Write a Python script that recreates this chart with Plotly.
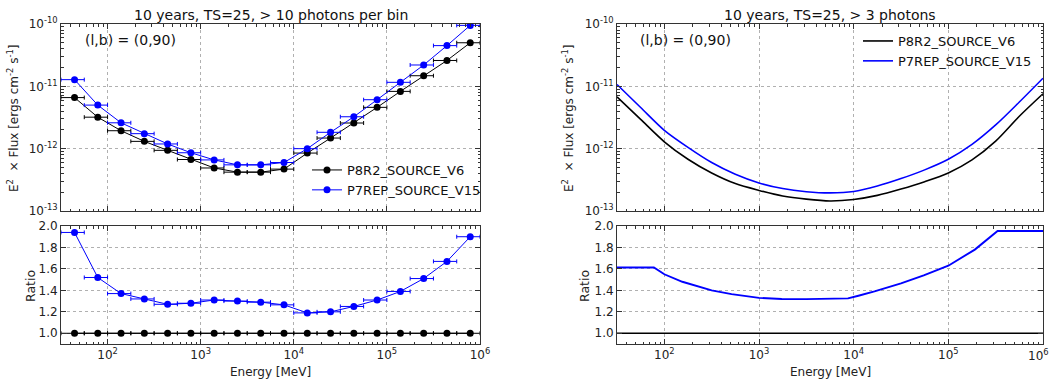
import plotly.graph_objects as go

# ---------------- data: left panel (binned, > 10 photons per bin) ----------------
energy_binned = [44.2, 78.5, 139.6, 248.3, 441.6, 785.2, 1396, 2483, 4416, 7852,
                 13964, 24831, 44157, 78524, 139637, 248313, 441570, 785236]
bin_lo = [31.62, 56.23, 100, 177.8, 316.2, 562.3, 1000, 1778, 3162, 5623,
          10000, 17783, 31623, 56234, 100000, 177828, 316228, 562341]
bin_hi = [56.23, 100, 177.8, 316.2, 562.3, 1000, 1778, 3162, 5623, 10000,
          17783, 31623, 56234, 100000, 177828, 316228, 562341, 1000000]
flux_p8_binned = [6.6e-12, 3.2e-12, 1.94e-12, 1.31e-12, 9.4e-13, 6.7e-13, 4.9e-13, 4.2e-13, 4.2e-13,
                  4.7e-13, 8.5e-13, 1.48e-12, 2.58e-12, 4.6e-12, 8.3e-12, 1.48e-11, 2.6e-11, 5.0e-11]
flux_p7_binned = [1.28e-11, 5.0e-12, 2.6e-12, 1.74e-12, 1.19e-12, 8.6e-13, 6.6e-13, 5.5e-13, 5.5e-13,
                  6.0e-13, 1.0e-12, 1.83e-12, 3.25e-12, 6.1e-12, 1.16e-11, 2.2e-11, 4.5e-11, 9.5e-11]
ratio_p8_binned = [1.0, 1.0, 1.0, 1.0, 1.0, 1.0, 1.0, 1.0, 1.0,
                   1.0, 1.0, 1.0, 1.0, 1.0, 1.0, 1.0, 1.0, 1.0]
ratio_p7_binned = [1.94, 1.52, 1.37, 1.32, 1.27, 1.28, 1.31, 1.30, 1.29,
                   1.265, 1.19, 1.20, 1.25, 1.31, 1.39, 1.51, 1.67, 1.90]

# ---------------- data: right panel (continuous, > 3 photons) ----------------
energy_curve = [31.62, 56.23, 100, 177.8, 316.2, 562.3, 1000, 1778, 3162, 5623,
                10000, 17783, 31623, 56234, 100000, 177828, 316228, 562341, 1000000]
flux_p8_curve = [6.76e-12, 2.95e-12, 1.29e-12, 6.76e-13, 4.07e-13, 2.75e-13, 2.14e-13, 1.74e-13, 1.55e-13,
                 1.45e-13, 1.53e-13, 1.78e-13, 2.25e-13, 2.95e-13, 4.07e-13, 6.6e-13, 1.32e-12,
                 3.31e-12, 7.6e-12]
flux_p7_curve = [1.07e-11, 4.57e-12, 1.97e-12, 1.05e-12, 6.0e-13, 3.89e-13, 2.82e-13, 2.29e-13, 2.04e-13,
                 1.95e-13, 2.05e-13, 2.51e-13, 3.31e-13, 4.57e-13, 6.76e-13, 1.17e-12, 2.4e-12,
                 5.6e-12, 1.35e-11]
energy_ratio = [31.62, 77.6, 100, 155, 316.2, 513, 1000, 1738, 3162, 5370,
                8710, 11220, 16600, 31623, 54950, 100000, 125900, 190500, 331100, 1000000]
ratio_p7_curve = [1.613, 1.613, 1.55, 1.48, 1.40, 1.365, 1.33, 1.32, 1.318, 1.32,
                  1.325, 1.35, 1.39, 1.465, 1.54, 1.63, 1.685, 1.78, 1.953, 1.953]
energy_ratio_ref = [31.62, 1000000]
ratio_p8_curve = [1.0, 1.0]

names = ["P8R2_SOURCE_V6", "P7REP_SOURCE_V15"]
colors = ["#000000", "#0000ff"]
titles = ["10 years, TS=25, > 10 photons per bin", "10 years, TS=25, > 3 photons"]
flux_ticks = [1e-13, 1e-12, 1e-11, 1e-10]
flux_ticktext = ["10<sup>-13</sup>", "10<sup>-12</sup>", "10<sup>-11</sup>", "10<sup>-10</sup>"]
energy_ticks = [100, 1000, 10000, 100000, 1000000]
energy_ticktext = ["10<sup>2</sup>", "10<sup>3</sup>", "10<sup>4</sup>", "10<sup>5</sup>", "10<sup>6</sup>"]
ratio_ticks = [1.0, 1.2, 1.4, 1.6, 1.8, 2.0]

FONT = "DejaVu Sans"
fig = go.Figure()

err_plus = [h - e for h, e in zip(bin_hi, energy_binned)]
err_minus = [e - l for l, e in zip(bin_lo, energy_binned)]

# left top
for fl, nm, c in [(flux_p8_binned, names[0], colors[0]), (flux_p7_binned, names[1], colors[1])]:
    fig.add_trace(go.Scatter(
        x=energy_binned, y=fl, name=nm, mode="lines+markers",
        line=dict(color=c, width=1), marker=dict(color=c, size=7),
        error_x=dict(type="data", array=err_plus, arrayminus=err_minus,
                     color=c, thickness=1, width=2),
        xaxis="x", yaxis="y", legend="legend"))
# left bottom
for r, nm, c in [(ratio_p8_binned, names[0], colors[0]), (ratio_p7_binned, names[1], colors[1])]:
    fig.add_trace(go.Scatter(
        x=energy_binned, y=r, name=nm, mode="lines+markers", showlegend=False,
        line=dict(color=c, width=1), marker=dict(color=c, size=7),
        error_x=dict(type="data", array=err_plus, arrayminus=err_minus,
                     color=c, thickness=1, width=2),
        xaxis="x2", yaxis="y2"))
# right top
for fl, nm, c in [(flux_p8_curve, names[0], colors[0]), (flux_p7_curve, names[1], colors[1])]:
    fig.add_trace(go.Scatter(
        x=energy_curve, y=fl, name=nm, mode="lines",
        line=dict(color=c, width=1.6, shape="spline", smoothing=0.8),
        xaxis="x3", yaxis="y3", legend="legend2"))
# right bottom
fig.add_trace(go.Scatter(x=energy_ratio_ref, y=ratio_p8_curve, mode="lines", showlegend=False,
                         line=dict(color=colors[0], width=1.6), xaxis="x4", yaxis="y4"))
fig.add_trace(go.Scatter(x=energy_ratio, y=ratio_p7_curve, mode="lines", showlegend=False,
                         line=dict(color=colors[1], width=1.9), xaxis="x4", yaxis="y4"))

W, H = 1052, 380
def fx(px):
    return px / W
def fy(py):
    return 1 - py / H

axcol = "#333333"
gridc = "#b0b0b0"
tickfont = dict(family=FONT, size=12, color="#222222")

def xaxis(dom, labels, anchor):
    return dict(type="log", range=[1.5, 6], domain=dom, anchor=anchor, automargin=False,
                tickvals=energy_ticks, ticktext=energy_ticktext, showticklabels=labels,
                ticks="inside", ticklen=5, tickcolor=axcol, showline=True, linecolor=axcol,
                linewidth=1, mirror="ticks", showgrid=True, gridcolor=gridc, griddash="dot",
                gridwidth=1, zeroline=False, tickfont=tickfont,
                minor=dict(ticks="inside", ticklen=2.5, tickcolor=axcol, dtick="D1", showgrid=False))

def yflux(dom, anchor):
    return dict(type="log", range=[-13, -10], domain=dom, anchor=anchor, automargin=False,
                tickvals=flux_ticks, ticktext=flux_ticktext,
                ticks="inside", ticklen=5, tickcolor=axcol, showline=True, linecolor=axcol,
                linewidth=1, mirror="ticks", showgrid=True, gridcolor=gridc, griddash="dot",
                zeroline=False, tickfont=tickfont,
                minor=dict(ticks="inside", ticklen=2.5, tickcolor=axcol, dtick="D1", showgrid=False))

def yratio(dom, anchor):
    return dict(range=[0.9, 2.0], domain=dom, anchor=anchor, tickvals=ratio_ticks, automargin=False,
                tickformat=".1f", ticks="inside", ticklen=5, tickcolor=axcol, showline=True,
                linecolor=axcol, linewidth=1, mirror="ticks", showgrid=True, gridcolor=gridc,
                griddash="dot", zeroline=False, tickfont=tickfont)

top_dom = [fy(211), fy(24)]
bot_dom = [fy(344), fy(226)]
left_dom = [fx(61), fx(480)]
right_dom = [fx(617), fx(1043)]

annotations = []
for i, (dom, t) in enumerate([(left_dom, titles[0]), (right_dom, titles[1])]):
    cx = (dom[0] + dom[1]) / 2
    annotations.append(dict(text=t, x=cx, y=fy(15), xref="paper", yref="paper", showarrow=False,
                            font=dict(family=FONT, size=14, color="#111"), xanchor="center", yanchor="middle"))
    annotations.append(dict(text="Energy [MeV]", x=cx, y=fy(372), xref="paper", yref="paper", showarrow=False,
                            font=dict(family=FONT, size=12, color="#222"), xanchor="center", yanchor="middle"))
for xl in [83, 638]:
    annotations.append(dict(text="(l,b) = (0,90)", x=fx(xl), y=fy(40), xref="paper", yref="paper",
                            showarrow=False, font=dict(family=FONT, size=14, color="#111"),
                            xanchor="left", yanchor="middle"))
for xl in [13, 568]:
    annotations.append(dict(text="E<sup>2</sup>  × Flux [ergs cm<sup>-2</sup> s<sup>-1</sup>]",
                            x=fx(xl), y=fy(119), xref="paper", yref="paper", showarrow=False,
                            textangle=-90, font=dict(family=FONT, size=12, color="#222"),
                            xanchor="center", yanchor="middle"))
for xl in [30, 584]:
    annotations.append(dict(text="Ratio", x=fx(xl), y=fy(286), xref="paper", yref="paper", showarrow=False,
                            textangle=-90, font=dict(family=FONT, size=12.5, color="#222"),
                            xanchor="center", yanchor="middle"))
# last energy tick label of the right panel (sits at the figure edge)
annotations.append(dict(text=energy_ticktext[-1], x=fx(1051), y=fy(355), xref="paper", yref="paper",
                        showarrow=False, font=tickfont, xanchor="right", yanchor="middle"))

fig.update_layout(
    width=W, height=H, margin=dict(l=0, r=0, t=0, b=0, autoexpand=False),
    paper_bgcolor="white", plot_bgcolor="white",
    font=dict(family=FONT, size=12, color="#222"),
    xaxis=xaxis(left_dom, False, "y"),
    yaxis=yflux(top_dom, "x"),
    xaxis2=xaxis(left_dom, True, "y2"),
    yaxis2=yratio(bot_dom, "x2"),
    xaxis3=xaxis(right_dom, False, "y3"),
    yaxis3=yflux(top_dom, "x3"),
    xaxis4=xaxis(right_dom, True, "y4"),
    yaxis4=yratio(bot_dom, "x4"),
    legend=dict(x=fx(307), y=fy(155), xanchor="left", yanchor="top", bgcolor="rgba(0,0,0,0)",
                font=dict(family=FONT, size=13, color="#111"), tracegroupgap=0),
    legend2=dict(x=fx(858), y=fy(26), xanchor="left", yanchor="top", bgcolor="rgba(0,0,0,0)",
                 font=dict(family=FONT, size=13, color="#111"), tracegroupgap=0),
    annotations=annotations,
    showlegend=True,
)

fig.write_html("out.html", config={"displayModeBar": False},
               post_script="document.body.style.margin='0';document.body.style.overflow='hidden';")
